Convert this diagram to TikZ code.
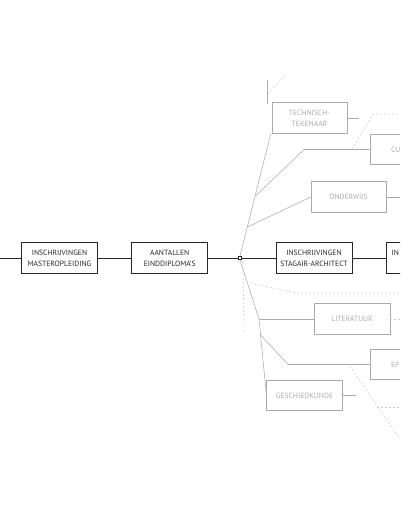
\documentclass[tikz,border=0pt]{standalone}
\usepackage{fontspec}
\setmainfont{PT Sans}
\usetikzlibrary{positioning}
\definecolor{ink}{HTML}{262626}
\definecolor{faint}{HTML}{ABABAB}
\definecolor{faintline}{HTML}{CCCCCC}
\tikzset{
 box/.style={draw=ink,line width=.8pt,minimum width=76pt,minimum height=30.5pt,inner sep=1pt,align=center,text=ink,font=\fontsize{7.6}{11}\selectfont},
 greybox/.style={box,draw=faint,text=faint,line width=.6pt},
 cutbox/.style={greybox,align=left,text width=40pt,inner xsep=21pt},
 link/.style={ink,line width=.8pt},
 twig/.style={faint,line width=.55pt},
 ghost/.style={faintline,line width=.6pt,dash pattern=on 2pt off 2pt},
}
\begin{document}
\begin{tikzpicture}[x=1pt,y=-1pt]
 \clip (0,0) rectangle (400,516);
 \coordinate (start) at (0,258);
 \node[box] (master) at (59.5,258) {INSCHRIJVINGEN\\MASTEROPLEIDING};
 \node[box] (diploma) at (169.7,258) {AANTALLEN\\EINDDIPLOMA'S};
 \node[draw=ink,fill=white,line width=.6pt,minimum size=3.5pt,inner sep=0pt] (hub) at (240,258) {};
 \node[box] (stagair) at (314,258) {INSCHRIJVINGEN\\STAGAIR-ARCHITECT};
 \node[box,align=left,text width=66pt,inner xsep=5pt] (next) at (424.7,258) {IN\\\mbox{}};
 \draw[link] (start) -- (master.west);
 \draw[link] (master) -- (diploma);
 \draw[link] (diploma) -- (hub);
 \draw[link] (hub) -- (stagair);
 \draw[link] (stagair) -- (next);
 % upper fan
 \node[greybox,minimum width=75pt] (tekenaar) at (309.5,118) {TECHNISCH-\\TEKENAAR};
 \node[cutbox] (cultuur) at (411,149.5) {CU};
 \node[greybox,minimum width=75pt] (onderwijs) at (348.5,197) {ONDERWIJS};
 \coordinate (ttop) at (271,133);
 \coordinate (tcu) at (255.5,196);
 \coordinate (tond) at (247.5,227);
 \coordinate (kcu) at (304,149.5);
 \coordinate (stub) at (267,80);
 \coordinate (stubend) at (267,104);
 \draw[twig] (hub.north) -- (ttop);
 \draw[twig] (stub) -- (stubend);
 \draw[twig] (tcu) -- (kcu) -- (cultuur.west);
 \draw[twig] (tond) -- (onderwijs.west);
 \draw[twig] (tekenaar.east) -- ++(12,0);
 \draw[twig] (onderwijs.east) -- ++(20,0);
 \draw[ghost] (268,94) -- (287,73);
 \draw[ghost] (352,149.5) -- (373,114) -- (405,114);
 % lower fan
 \node[greybox] (literatuur) at (352,319) {LITERATUUR};
 \node[cutbox] (ep) at (411,364.5) {EP};
 \node[greybox,minimum width=75.5pt] (geschiedkunde) at (304.5,395.5) {GESCHIEDKUNDE};
 \coordinate (blit) at (259,319);
 \coordinate (bep) at (260.6,335);
 \coordinate (kep) at (288,364.5);
 \draw[twig] (hub.south) -- (blit) -- (geschiedkunde.west);
 \draw[twig] (blit) -- (literatuur.west);
 \draw[twig] (bep) -- (kep) -- (ep.west);
 \draw[twig] (geschiedkunde.east) -- ++(13,0);
 \draw[ghost] (literatuur.east) -- ++(12,0);
 \draw[ghost] (243,262) -- (244,332);
 \draw[ghost] (250,283) -- (297,293) -- (405,293);
 \draw[ghost] (350,366) -- (402,442);
 \draw[ghost] (377,407) -- (405,407);
\end{tikzpicture}
\end{document}
